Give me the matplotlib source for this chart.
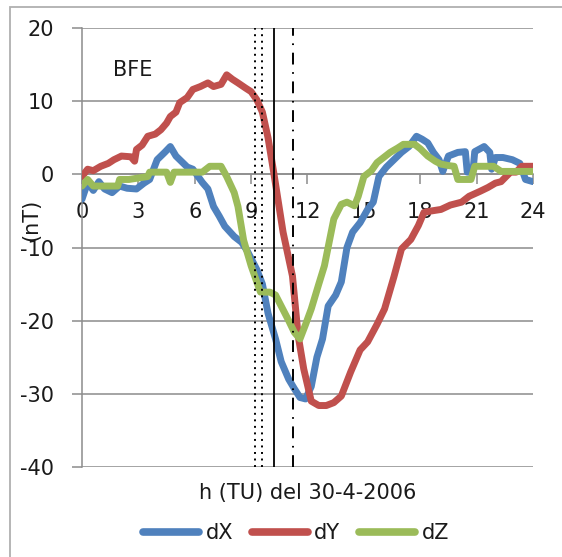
import matplotlib
matplotlib.use('Agg')
import matplotlib.pyplot as plt
from matplotlib.patches import Rectangle

plt.rcParams['font.family'] = ['DejaVu Sans']
plt.rcParams['lines.scale_dashes'] = False
plt.rcParams['axes.unicode_minus'] = False

# dX (nT)
h_x = [0, 0.3, 0.6, 0.9, 1.2, 1.6, 2.0, 2.4, 2.9, 3.3, 3.6, 4.0, 4.4, 4.7, 5.0,
       5.2, 5.6, 5.9, 6.4, 6.7, 7.0, 7.3, 7.6, 8.1, 8.5, 8.8, 9.1, 9.3, 9.6, 9.9,
       10.3, 10.6, 11.0, 11.3, 11.6, 11.9, 12.2, 12.5, 12.8, 13.1, 13.5, 13.8,
       14.1, 14.4, 14.8, 15.2, 15.5, 15.8, 16.2, 16.6, 17.0, 17.4, 17.8, 18.1,
       18.4, 18.7, 19.0, 19.2, 19.5, 20.0, 20.4, 20.5, 20.8, 20.9, 21.4, 21.7,
       21.8, 22.0, 22.4, 22.9, 23.3, 23.6, 24.0]
dX = [-3.4, -1.1, -2.2, -1.0, -2.0, -2.5, -1.6, -1.9, -2.0, -1.2, -0.7, 2.0, 3.0,
      3.8, 2.5, 2.0, 1.0, 0.7, -1.1, -2.0, -4.4, -5.7, -7.1, -8.5, -9.3, -10.5,
      -12.0, -13.0, -15.0, -19.0, -22.5, -25.6, -28.0, -29.3, -30.5, -30.7, -29.0,
      -25.0, -22.5, -18.0, -16.5, -14.7, -10.0, -7.9, -6.6, -4.8, -3.8, -0.3, 1.0,
      2.0, 3.0, 3.8, 5.2, 4.8, 4.3, 3.0, 2.0, 0.4, 2.5, 3.0, 3.1, 0.3, 0.3, 3.1,
      3.8, 3.0, 0.7, 2.3, 2.3, 2.0, 1.5, -0.7, -1.0]

# dY (nT)
h_y = [0, 0.3, 0.6, 1.0, 1.4, 1.7, 2.1, 2.6, 2.8, 2.9, 3.2, 3.5, 3.9, 4.2, 4.5,
       4.7, 5.0, 5.2, 5.6, 5.9, 6.3, 6.7, 7.0, 7.4, 7.7, 8.0, 8.3, 8.7, 9.0, 9.3,
       9.6, 9.9, 10.2, 10.7, 11.2, 11.5, 11.8, 12.2, 12.6, 13.0, 13.4, 13.8, 14.3,
       14.8, 15.2, 15.7, 16.1, 16.6, 17.0, 17.5, 17.9, 18.2, 18.6, 19.1, 19.6,
       20.2, 20.6, 21.2, 21.6, 22.0, 22.3, 22.8, 23.1, 23.4, 24.0]
dY = [-0.3, 0.7, 0.5, 1.1, 1.5, 2.0, 2.5, 2.4, 1.8, 3.4, 4.0, 5.2, 5.5, 6.1, 7.0,
      7.9, 8.5, 9.8, 10.5, 11.6, 12.0, 12.5, 12.0, 12.3, 13.6, 13.0, 12.5, 11.8,
      11.3, 10.2, 8.5, 5.0, 0.3, -7.9, -13.9, -22.0, -26.6, -31.0, -31.6, -31.6,
      -31.2, -30.3, -27.0, -24.0, -22.9, -20.5, -18.4, -14.0, -10.2, -8.9, -7.0,
      -5.2, -5.0, -4.8, -4.2, -3.8, -3.0, -2.3, -1.8, -1.2, -1.0, 0.3, 0.3, 1.1,
      1.1]

# dZ (nT)
h_z = [0, 0.3, 0.6, 1.0, 1.5, 1.9, 2.0, 2.5, 3.0, 3.5, 3.6, 4.0, 4.5, 4.7, 4.9,
       5.5, 6.0, 6.4, 6.8, 7.1, 7.4, 7.7, 8.1, 8.3, 8.6, 9.0, 9.3, 9.5, 9.8, 10.0,
       10.3, 10.6, 11.0, 11.3, 11.6, 11.9, 12.2, 12.6, 12.9, 13.4, 13.8, 14.1,
       14.5, 14.7, 15.0, 15.4, 15.7, 16.0, 16.4, 16.8, 17.1, 17.7, 18.0, 18.4,
       18.8, 19.1, 19.5, 19.8, 20.0, 20.7, 20.9, 21.5, 21.9, 22.3, 23.0, 23.5, 24.0]
dZ = [-1.6, -0.7, -1.6, -1.6, -1.6, -1.6, -0.7, -0.7, -0.5, -0.3, 0.3, 0.3, 0.3,
      -1.1, 0.3, 0.3, 0.3, 0.3, 1.1, 1.1, 1.1, -0.3, -2.5, -4.4, -9.0, -12.5,
      -14.7, -16.1, -16.1, -16.1, -16.5, -18.0, -20.0, -21.6, -22.5, -20.5,
      -18.4, -15.0, -12.5, -6.1, -4.1, -3.8, -4.3, -3.0, -0.3, 0.5, 1.6, 2.2,
      3.0, 3.6, 4.1, 4.1, 3.5, 2.5, 1.8, 1.4, 1.2, 1.1, -0.7, -0.7, 1.1, 1.1,
      1.1, 0.4, 0.4, 0.4, 0.4]

# vertical event markers (h)
dotted_h = [9.21, 9.6]
solid_h = 10.2
dashdot_h = 11.22

fig = plt.figure(figsize=(5.62, 5.57), dpi=100)
ax = fig.add_axes([0.1459, 0.1616, 0.8025, 0.7881])

ax.plot(h_x, dX, color='#4F81BD', lw=5, solid_capstyle='round', solid_joinstyle='round', label='dX', zorder=3)
ax.plot(h_y, dY, color='#C0504D', lw=5, solid_capstyle='round', solid_joinstyle='round', label='dY', zorder=3)
ax.plot(h_z, dZ, color='#9BBB59', lw=5, solid_capstyle='round', solid_joinstyle='round', label='dZ', zorder=3)

for xv in dotted_h:
    ax.plot([xv, xv], [-40, 20], color='black', lw=1.4, linestyle=(0, (1.4, 3.3)), zorder=4)
ax.plot([solid_h, solid_h], [-40, 20], color='black', lw=1.3, zorder=4)
ax.plot([dashdot_h, dashdot_h], [-40, 20], color='black', lw=1.4,
        linestyle=(0, (8.5, 5.5, 1.2, 5.5)), zorder=4)

ax.set_xlim(0, 24)
ax.set_ylim(-40, 20)
ax.set_xticks(range(0, 25, 3))
ax.set_yticks(range(-40, 21, 10))
ax.yaxis.grid(True, color='#8c8c8c', lw=1.1)
ax.set_axisbelow(True)

for s in ['top', 'right']:
    ax.spines[s].set_visible(False)
ax.spines['bottom'].set_position(('data', 0))
ax.spines['bottom'].set_color('#8c8c8c')
ax.spines['left'].set_color('#8c8c8c')
ax.spines['bottom'].set_linewidth(1.1)
ax.spines['left'].set_linewidth(1.1)

ax.tick_params(axis='both', direction='out', length=7, width=1.1, color='#8c8c8c',
               labelsize=15, labelcolor='#1a1a1a', pad=13)

ax.set_xlabel('h (TU) del 30-4-2006', fontsize=15, color='#1a1a1a', va='center')
ax.xaxis.set_label_coords(0.501, -0.059)
ax.set_ylabel('(nT)', fontsize=15, color='#1a1a1a', ha='center', va='center')
ax.yaxis.set_label_coords(-0.113, 0.563)

ax.text(0.113, 0.904, 'BFE', transform=ax.transAxes, ha='center', va='center',
        fontsize=15, color='#1a1a1a')

leg = ax.legend(loc='center', bbox_to_anchor=(0.527, 0.043), bbox_transform=fig.transFigure,
                ncol=3, frameon=False, fontsize=15, handlelength=2.7, handletextpad=0.3,
                columnspacing=0.9)
for line in leg.get_lines():
    line.set_linewidth(5.5)
    line.set_solid_capstyle('round')
for t in leg.get_texts():
    t.set_color('#1a1a1a')

# outer chart frame (partly cropped)
fig.patches.append(Rectangle((10 / 562, -0.2), 1.3, 0.2 + 1 - 7 / 557, transform=fig.transFigure,
                             fill=False, edgecolor='#b0b0b0', lw=1.3))

fig.savefig('out.png', dpi=100)
